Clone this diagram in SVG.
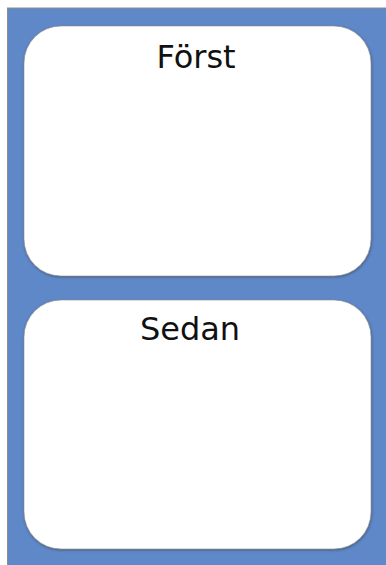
<svg xmlns="http://www.w3.org/2000/svg" width="386" height="565" viewBox="0 0 386 565">
  <defs>
    <filter id="shadow" x="-5%" y="-5%" width="110%" height="110%">
      <feDropShadow dx="0.5" dy="1" stdDeviation="0.8" flood-color="#333" flood-opacity="0.55"/>
    </filter>
  </defs>
  <style>
    .card { fill: #ffffff; stroke: #8a8a8a; stroke-width: 0.6; filter: url(#shadow); }
    .label { font-family: "Comic Sans MS", "DejaVu Sans", "Liberation Sans", sans-serif; font-size: 32px; fill: #111; text-anchor: middle; }
  </style>
  <rect x="0" y="0" width="386" height="565" fill="#ffffff"/>
  <!-- blue board -->
  <rect id="board" x="7.5" y="8" width="379" height="558" fill="#5f88c9" stroke="#8d8d8d" stroke-width="1"/>
  <g id="card-forst">
    <rect class="card" x="24" y="26" width="347" height="250" rx="37" ry="37"/>
    <text class="label" x="196" y="68">Först</text>
  </g>
  <g id="card-sedan">
    <rect class="card" x="24" y="300" width="347" height="249" rx="37" ry="37"/>
    <text class="label" x="190" y="340">Sedan</text>
  </g>
</svg>
